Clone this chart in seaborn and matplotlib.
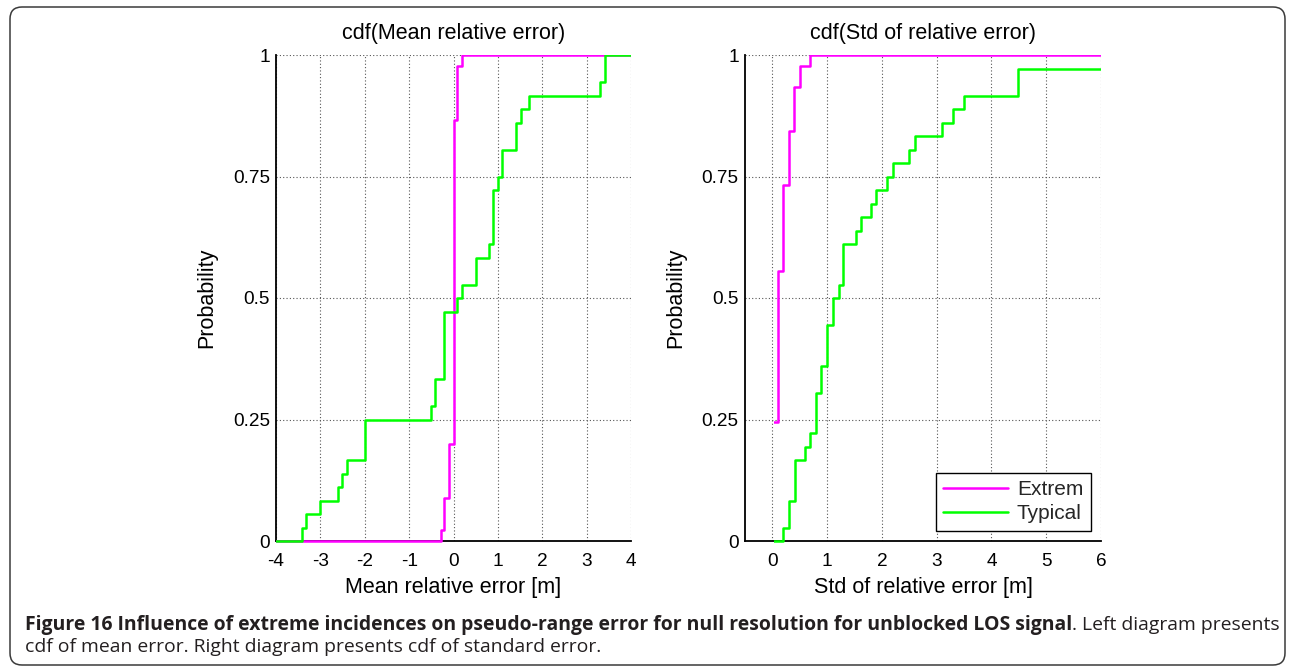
import numpy as np
import matplotlib
matplotlib.use("Agg")
import matplotlib.pyplot as plt
from matplotlib.patches import FancyBboxPatch, Rectangle
from matplotlib.transforms import IdentityTransform
import seaborn as sns

# ---------------------------------------------------------------- data
series_names = ["Extrem", "Typical"]
series_colors = ["#ff00ff", "#00ff00"]

# mean relative error per incidence [m]
mean_extrem = [-0.29,
               -0.22, -0.22, -0.22,
               -0.10, -0.10, -0.10, -0.10, -0.10,
               0.0, 0.0, 0.0, 0.0, 0.0, 0.0, 0.0, 0.0, 0.0, 0.0,
               0.0, 0.0, 0.0, 0.0, 0.0, 0.0, 0.0, 0.0, 0.0, 0.0,
               0.0, 0.0, 0.0, 0.0, 0.0, 0.0, 0.0, 0.0, 0.0, 0.0,
               0.08, 0.08, 0.08, 0.08, 0.08,
               0.20]
mean_typical = [-3.42, -3.33, -3.00, -2.61, -2.51, -2.40,
                -2.00, -2.00, -2.00,
                -0.50, -0.41, -0.41,
                -0.21, -0.21, -0.21, -0.21, -0.21,
                0.09, 0.20, 0.50, 0.50, 0.80,
                0.89, 0.89, 0.89, 0.89,
                1.00, 1.10, 1.10, 1.40, 1.40, 1.51, 1.70,
                3.31, 3.41, 3.41]

# standard deviation of relative error per incidence [m]
std_extrem = [0.0, 0.0, 0.0, 0.0, 0.0, 0.0, 0.0, 0.0, 0.0, 0.0, 0.0,
              0.10, 0.10, 0.10, 0.10, 0.10, 0.10, 0.10,
              0.10, 0.10, 0.10, 0.10, 0.10, 0.10, 0.10,
              0.20, 0.20, 0.20, 0.20, 0.20, 0.20, 0.20, 0.20,
              0.30, 0.30, 0.30, 0.30, 0.30,
              0.40, 0.40, 0.40, 0.40,
              0.50, 0.50,
              0.69]
std_typical = [0.19, 0.30, 0.30, 0.41, 0.41, 0.41, 0.60, 0.69,
               0.80, 0.80, 0.80, 0.89, 0.89,
               1.00, 1.00, 1.00, 1.10, 1.10, 1.21,
               1.29, 1.29, 1.29, 1.52, 1.61, 1.80, 1.90,
               2.09, 2.20, 2.49, 2.60, 3.10, 3.30, 3.50,
               4.49, 4.49, 7.20]

panel_titles = ["cdf(Mean relative error)", "cdf(Std of relative error)"]
x_labels = ["Mean relative error [m]", "Std of relative error [m]"]
y_label = "Probability"
y_ticks = [0, 0.25, 0.5, 0.75, 1]
y_tick_labels = ["0", "0.25", "0.5", "0.75", "1"]
mean_x_ticks = [-4, -3, -2, -1, 0, 1, 2, 3, 4]
std_x_ticks = [0, 1, 2, 3, 4, 5, 6]

caption_bold = ("Figure 16 Influence of extreme incidences on pseudo-range error "
                "for null resolution for unblocked LOS signal")
caption_rest = ". Left diagram presents"
caption_line2 = "cdf of mean error. Right diagram presents cdf of standard error."

# ---------------------------------------------------------------- style
sns.set_style("white")
plt.rcParams["font.family"] = ["Liberation Sans", "DejaVu Sans"]

W, H = 1290, 668
fig = plt.figure(figsize=(W / 100, H / 100), dpi=100)
renderer = fig.canvas.get_renderer()


def axes_px(x0, x1, y_top, y_bot):
    return fig.add_axes([x0 / W, 1 - y_bot / H, (x1 - x0) / W, (y_bot - y_top) / H])


ax_mean = axes_px(276, 631, 55, 541)
ax_std = axes_px(745, 1101, 55, 541)

LINE_W = 1.8  # points


def draw_cdf(ax, values, color, label, x_start, x_end):
    sns.ecdfplot(x=np.asarray(values, dtype=float), ax=ax, color=color,
                 linewidth=LINE_W, label=label)
    line = ax.lines[-1]
    xs, ys = line.get_data()
    # run the staircase flat from the left limit up to the first sample and
    # from the last sample out to the right limit
    xs = np.r_[x_start, xs[1:], max(x_end, xs[-1])]
    ys = np.r_[0.0, ys[1:], ys[-1]]
    line.set_data(xs, ys)
    line.set_zorder(3)  # staircase sits on top of the axis lines
    return line


panels = [
    (ax_mean, [mean_extrem, mean_typical], (-4, 4), mean_x_ticks, -4),
    (ax_std, [std_extrem, std_typical], (-0.5, 6), std_x_ticks, 0),
]

for i, (ax, data, xlim, xticks, x_start) in enumerate(panels):
    lines = []
    for vals, name, col in zip(data, series_names, series_colors):
        lines.append(draw_cdf(ax, vals, col, name, x_start, xlim[1]))
    ax.set_xlim(*xlim)
    ax.set_ylim(0, 1)

    # clip region: the plotting area, opened downward so the zero level is
    # drawn in full over the x axis; the std panel is cut at zero
    bb = ax.get_window_extent(renderer)
    px_x = bb.width / (xlim[1] - xlim[0])
    px_y = bb.height / 1.0
    half = LINE_W * 100 / 72 / 2
    x_clip = x_start + (half + 0.3) / px_x if x_start > xlim[0] else xlim[0]
    y_clip = -(half + 0.5) / px_y
    clip = Rectangle((x_clip, y_clip), xlim[1] - x_clip, 1 - y_clip,
                     transform=ax.transData)
    for ln in lines:
        ln.set_clip_path(clip)

    ax.set_xticks(xticks)
    ax.set_xticklabels([str(t) for t in xticks])
    ax.set_yticks(y_ticks)
    ax.set_yticklabels(y_tick_labels)

    ax.grid(True, linestyle=(0, (1, 2)), color="#555555", linewidth=0.8)
    ax.set_axisbelow(True)
    for side in ("top", "right"):
        ax.spines[side].set_visible(False)
    for side in ("left", "bottom"):
        ax.spines[side].set_color("black")
        ax.spines[side].set_linewidth(1.3)
    ax.tick_params(axis="both", direction="in", length=5, width=1.3,
                   color="black", labelcolor="black", labelsize=13.7)
    ax.tick_params(axis="x", pad=8.5)
    ax.tick_params(axis="y", pad=4.5)

    ax.set_title(panel_titles[i], fontsize=15.5, pad=11.5, color="black")
    ax.set_xlabel(x_labels[i], fontsize=15.5, labelpad=5, color="black")
    ax.set_ylabel(y_label, fontsize=15.5, labelpad=11, color="black")

leg = ax_std.legend(loc="lower right", frameon=True, fancybox=False,
                    edgecolor="black", framealpha=1, fontsize=15,
                    handlelength=3.1, handletextpad=0.45, borderaxespad=0.5,
                    borderpad=0.35, labelspacing=0.25)
leg.get_frame().set_linewidth(1.0)
leg.set_zorder(5)

# ---------------------------------------------------------------- caption
cap_font = ["Open Sans", "DejaVu Sans"]
cap_color = "#231f20"
x_left, x_right = 25, 1277
base_y1, base_y2 = 630, 652

cap_size = 13.0
for _ in range(3):
    probe_b = fig.text(0, 0, caption_bold, fontsize=cap_size, fontweight="bold",
                       family=cap_font)
    probe_r = fig.text(0, 0, caption_rest, fontsize=cap_size, family=cap_font)
    w_total = (probe_b.get_window_extent(renderer).width
               + probe_r.get_window_extent(renderer).width)
    probe_b.remove()
    probe_r.remove()
    cap_size *= (x_right - x_left) / w_total

t_bold = fig.text(x_left / W, 1 - base_y1 / H, caption_bold, fontsize=cap_size,
                  fontweight="bold", family=cap_font, color=cap_color, va="baseline")
bb = t_bold.get_window_extent(renderer)
fig.text(bb.x1 / W, 1 - base_y1 / H, caption_rest, fontsize=cap_size,
         family=cap_font, color=cap_color, va="baseline")
fig.text(x_left / W, 1 - base_y2 / H, caption_line2, fontsize=cap_size,
         family=cap_font, color=cap_color, va="baseline")

# rounded frame around the figure and caption
frame = FancyBboxPatch((10, H - 665), 1275, 665 - 7,
                       boxstyle="round,pad=0,rounding_size=12",
                       transform=IdentityTransform(), facecolor="none",
                       edgecolor="#3a3a3a", linewidth=1.1)
fig.add_artist(frame)

fig.savefig("out.png", dpi=100)
